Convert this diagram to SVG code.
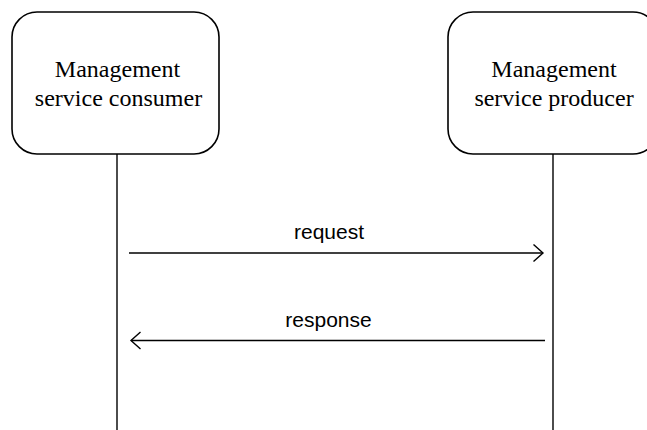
<svg xmlns="http://www.w3.org/2000/svg" width="647" height="430" viewBox="0 0 647 430">
<style>
.box{fill:#fff;stroke:#000;stroke-width:1.6}
.life{stroke:#000;stroke-width:1.4;fill:none}
.msg{stroke:#000;stroke-width:1.4;fill:none}
.nt{font-family:"Liberation Serif","Times New Roman",serif;font-size:24px;fill:#000;text-anchor:middle}
.lt{font-family:"Liberation Sans",Arial,sans-serif;font-size:21px;fill:#000;text-anchor:middle}
</style>
<defs>
<marker id="open" markerWidth="12" markerHeight="20" refX="10" refY="9" orient="auto" markerUnits="userSpaceOnUse">
<path d="M0.5,0.5 L10,9 L0.5,17.5" fill="none" stroke="#000" stroke-width="1.4"/>
</marker>
</defs>
<rect width="647" height="430" fill="#fff"/>
<g id="connectors">
<line class="life" x1="117" y1="154" x2="117" y2="430"/>
<line class="life" x1="553" y1="154" x2="553" y2="430"/>
<line class="msg" x1="129" y1="253" x2="543" y2="253" marker-end="url(#open)"/>
<line class="msg" x1="545" y1="340.5" x2="131" y2="340.5" marker-end="url(#open)"/>
<text class="lt" x="329" y="239">request</text>
<text class="lt" x="328.5" y="327">response</text>
</g>
<g id="consumer">
<rect class="box" x="12" y="12" width="207" height="142" rx="25" ry="25"/>
<text class="nt" x="117.5" y="77">Management</text>
<text class="nt" x="118.5" y="106">service consumer</text>
</g>
<g id="producer">
<rect class="box" x="448" y="12" width="210" height="142" rx="25" ry="25"/>
<text class="nt" x="554" y="77">Management</text>
<text class="nt" x="554" y="106">service producer</text>
</g>
</svg>
